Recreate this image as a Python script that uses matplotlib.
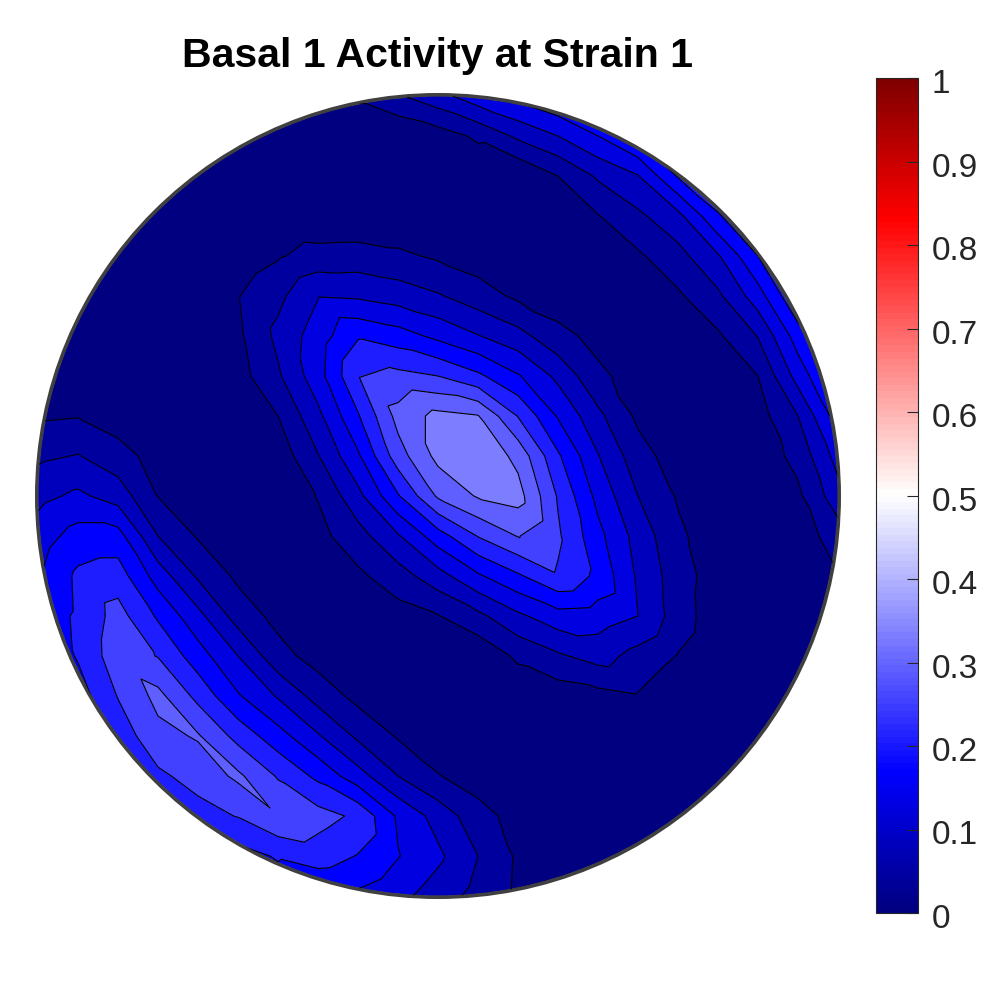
import numpy as np
import matplotlib
matplotlib.use("Agg")
import matplotlib.pyplot as plt
import matplotlib.tri as mtri
from matplotlib.colors import LinearSegmentedColormap, Normalize
from matplotlib.cm import ScalarMappable
from matplotlib.patches import Circle
from matplotlib.transforms import ScaledTranslation

plt.rcParams['font.family'] = ['Liberation Sans', 'DejaVu Sans']

# activity, in contour steps (one step = 1/24), top row first
activity_steps = [
    [.3, .3, .3, .3, .3, .3, .3, .6, 1.2, 1.88, 2.65, 3.6, 4.3, 5, 5, 5, 5, 5, 5, 5, 5],
    [.3, .3, .3, .3, .3, .3, .3, .1, .1, .1, .52, 1.18, 2.2, 3.0, 4.0, 5.2, 5.5, 5.5, 5.5, 5.5, 5.5],
    [.3, .3, .3, .3, .3, .3, .3, .3, .3, .3, .3, .2, .05, 1.0, 2.15, 2.95, 5.1, 6, 6, 6, 6],
    [.3, .3, .3, .3, .3, .3, .3, .2, .2, .2, .2, .2, .1, .55, .95, 1.8, 2.7, 4.9, 6, 6, 6],
    [.3, .3, .3, .3, .3, .4, .9, 1.37, 1.42, 1.2, .85, .5, .3, .3, .5, .85, 1.65, 2.9, 5, 6, 6],
    [.3, .3, .3, .3, .3, .95, 1.75, 2.95, 2.85, 2.54, 2.1, 1.45, .8, .45, .3, .4, .85, 1.8, 3.55, 6, 6],
    [.3, .3, .3, .3, .3, .8, 2.25, 3.5, 4.9, 4.45, 3.75, 3.05, 2.35, 1.3, .7, .4, .4, .85, 2.05, 4.5, 6],
    [.3, .3, .3, .3, .3, .6, 1.85, 3.6, 5.95, 6.3, 6.0, 5.2, 4.1, 2.75, 1.2, .6, .3, .45, 1.0, 3.4, 5.5],
    [.85, .95, .5, .3, .3, .3, 1.0, 2.75, 4.9, 7.35, 8.3, 8.05, 5.95, 3.9, 2.25, .8, .4, .3, .6, 2.0, 4.5],
    [1.8, 2.05, 1.4, .6, .3, .3, .4, 1.95, 3.85, 6.55, 8.3, 8.9, 7.7, 5.15, 3.05, 1.4, .5, .3, .4, 1.3, 3.4],
    [2.7, 3.2, 2.55, .97, .4, .3, .3, 1.05, 2.7, 4.9, 7.15, 8.1, 8.4, 5.9, 3.7, 2.0, .9, .4, .3, .8, 2.6],
    [3.5, 4.4, 4.4, 2.0, .9, .3, .3, .7, 1.6, 2.9, 4.55, 6.05, 7.05, 6.15, 4.3, 2.6, 1.2, .4, .3, .45, 1.5],
    [3.9, 5.2, 5.5, 3.55, 1.85, .8, .3, .4, .8, 1.55, 2.6, 3.85, 4.85, 5.9, 4.75, 2.85, 1.45, .5, .3, .4, .95],
    [4.4, 5.15, 6.4, 4.85, 3.3, 1.55, .7, .3, .3, .6, .95, 1.75, 2.8, 3.6, 3.5, 3.0, 1.5, .4, .3, .3, .4],
    [4.0, 5.1, 6.6, 5.95, 4.45, 3.0, 1.35, .6, .3, .2, .2, .2, 1.2, 1.85, 2.4, 1.65, .95, .3, .3, .3, .3],
    [3, 4.5, 6.05, 7.3, 5.7, 4.1, 2.9, 1.6, .7, .3, .2, .2, .2, .43, .65, .93, .2, .3, .3, .3, .3],
    [3, 4, 5.4, 6.7, 7.1, 5.65, 4.4, 3.1, 1.8, .9, .4, .3, .3, .3, .3, .3, .3, .3, .3, .3, .3],
    [3, 4, 5, 5.8, 6.4, 7.2, 5.9, 4.75, 3.4, 2.0, 1.05, .5, .3, .3, .3, .3, .3, .3, .3, .3, .3],
    [3, 4, 5, 5.2, 5.6, 6.05, 6.95, 6.4, 5.8, 3.85, 2.6, 1.4, .6, .3, .3, .3, .3, .3, .3, .3, .3],
    [3, 4, 4.5, 4.5, 4.5, 4.6, 5.1, 5.5, 4.95, 4.05, 3.2, 2.0, .85, .3, .3, .3, .3, .3, .3, .3, .3],
    [3, 3.5, 4, 4, 4, 4.3, 4.4, 3.9, 3.8, 3.3, 2.5, 1.65, .8, .3, .3, .3, .3, .3, .3, .3, .3],
]
step_size = 1 / 24
contour_steps = list(range(10))
bar_ticks = [0, 0.1, 0.2, 0.3, 0.4, 0.5, 0.6, 0.7, 0.8, 0.9, 1]
bar_labels = ['0', '0.1', '0.2', '0.3', '0.4', '0.5', '0.6', '0.7', '0.8', '0.9', '1']
title = 'Basal 1 Activity at Strain 1'

SIZE = 992.0

def px_axes(left, top, right, bottom):
    # axes rectangle from pixel edges, y counted from the top
    return [left / SIZE, 1 - bottom / SIZE, (right - left) / SIZE, (bottom - top) / SIZE]

def grid_triangles(ny, nx):
    # split every cell along the top-left to bottom-right diagonal, the way the ridges run
    tris = []
    for r in range(ny - 1):
        for c in range(nx - 1):
            tl = r * nx + c
            tris.append([tl, tl + 1, tl + nx + 1])
            tris.append([tl, tl + nx + 1, tl + nx])
    return tris

cmap = LinearSegmentedColormap.from_list(
    'bwr_dark',
    [(0, (0, 0, .5)), (1 / 6, (0, 0, 1)), (.5, (1, 1, 1)), (5 / 6, (1, 0, 0)), (1, (.5, 0, 0))],
    N=128)
norm = Normalize(0, 1)

fig = plt.figure(figsize=(9.92, 9.92), dpi=100)

# pole figure disc
ax = fig.add_axes(px_axes(38, 96, 838, 896))
ax.set_xlim(-1, 1)
ax.set_ylim(-1, 1)
ax.set_aspect('equal')
ax.axis('off')

activity = np.array(activity_steps) * step_size
ny, nx = activity.shape
xx, yy = np.meshgrid(np.linspace(-1, 1, nx), np.linspace(1, -1, ny))
tri = mtri.Triangulation(xx.ravel(), yy.ravel(), grid_triangles(ny, nx))

levels = [k * step_size for k in contour_steps]
band_colors = [cmap(norm(v)) for v in levels[:-1]]

filled = ax.tricontourf(tri, activity.ravel(), levels=levels, colors=band_colors)
lines = ax.tricontour(tri, activity.ravel(), levels=levels[1:], colors='k', linewidths=0.8)
clip = Circle((0, 0), 1.0, transform=ax.transData)
filled.set_clip_path(clip)
lines.set_clip_path(clip)
ax.add_patch(Circle((0, 0), 1.003, fill=False, edgecolor='#404040', linewidth=2.6, clip_on=False))

fig.text(437.5 / SIZE, 1 - 56 / SIZE, title, ha='center', va='center',
         fontsize=29.5, fontweight='bold', color='k')

# colorbar
cax = fig.add_axes(px_axes(876, 78, 918, 913))
cb = fig.colorbar(ScalarMappable(norm=norm, cmap=cmap), cax=cax, ticks=bar_ticks)
cb.ax.set_yticklabels(bar_labels)
cb.ax.tick_params(direction='in', length=8, width=0.8, colors='#262626', labelsize=24, pad=10)
cb.outline.set_edgecolor('#262626')
cb.outline.set_linewidth(0.8)
shift = ScaledTranslation(0, -3 / 100, fig.dpi_scale_trans)
for label in cb.ax.get_yticklabels():
    label.set_transform(label.get_transform() + shift)

fig.savefig('out.png', dpi=100, facecolor='white')
